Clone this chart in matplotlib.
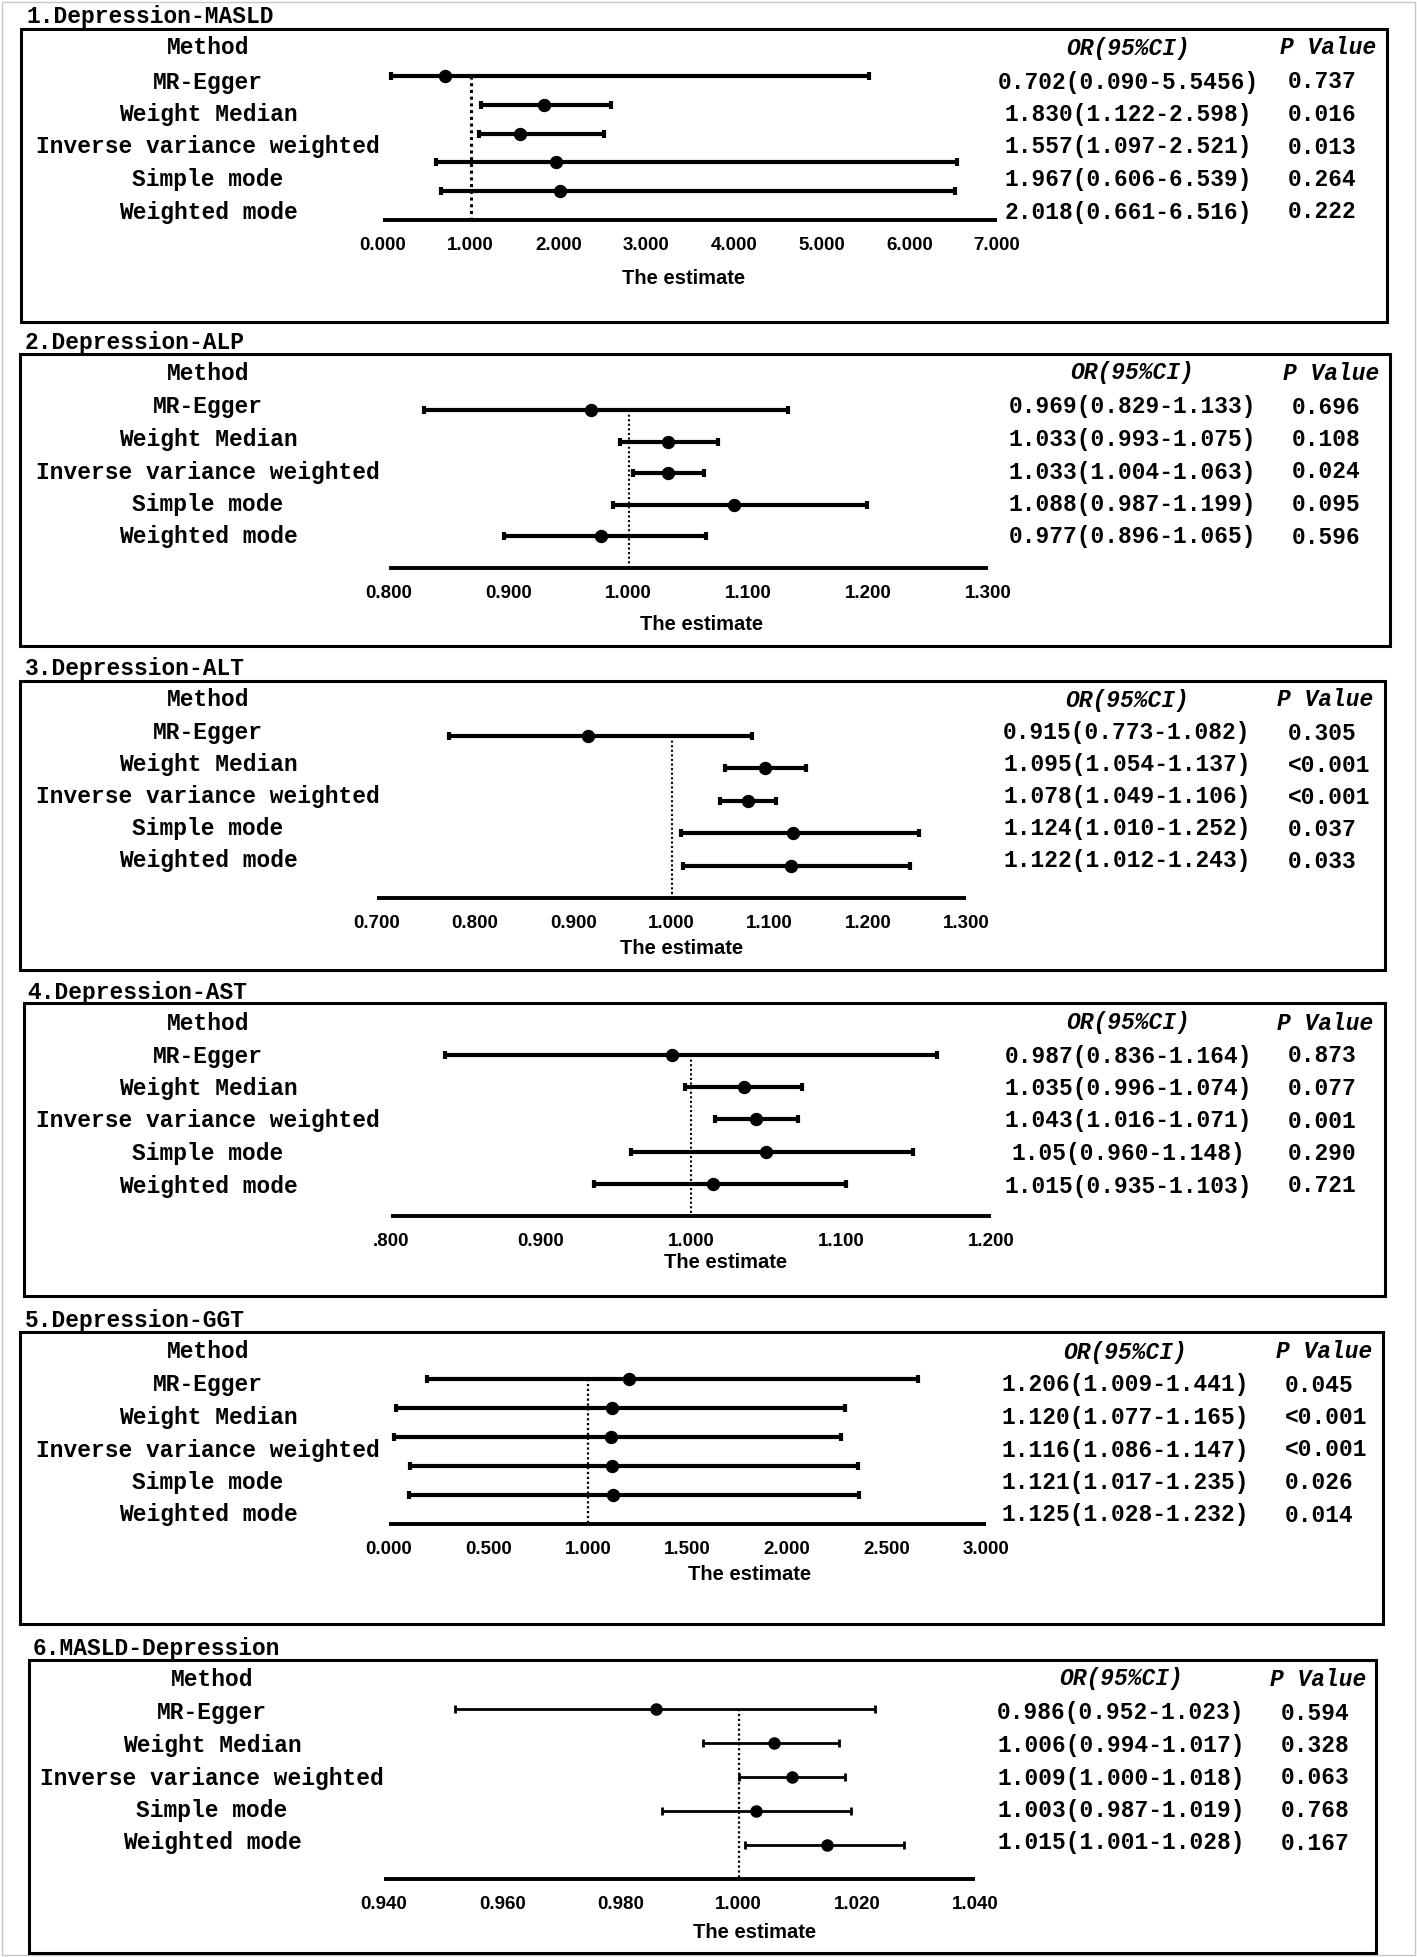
import matplotlib
matplotlib.use("Agg")
import matplotlib.pyplot as plt
from matplotlib.patches import Rectangle

# Data
methods = ["MR-Egger", "Weight Median", "Inverse variance weighted",
           "Simple mode", "Weighted mode"]

titles = ["1.Depression-MASLD", "2.Depression-ALP", "3.Depression-ALT",
          "4.Depression-AST", "5.Depression-GGT", "6.MASLD-Depression"]

# 1. Depression-MASLD
p1_est = [0.702, 1.830, 1.557, 1.967, 2.018]
p1_lo = [0.090, 1.122, 1.097, 0.606, 0.661]
p1_hi = [5.5456, 2.598, 2.521, 6.539, 6.516]
p1_ci = ["0.702(0.090-5.5456)", "1.830(1.122-2.598)", "1.557(1.097-2.521)",
         "1.967(0.606-6.539)", "2.018(0.661-6.516)"]
p1_p = ["0.737", "0.016", "0.013", "0.264", "0.222"]
p1_ticks = [0, 1, 2, 3, 4, 5, 6, 7]
p1_ticklabels = ["0.000", "1.000", "2.000", "3.000", "4.000", "5.000", "6.000", "7.000"]

# 2. Depression-ALP
p2_est = [0.969, 1.033, 1.033, 1.088, 0.977]
p2_lo = [0.829, 0.993, 1.004, 0.987, 0.896]
p2_hi = [1.133, 1.075, 1.063, 1.199, 1.065]
p2_ci = ["0.969(0.829-1.133)", "1.033(0.993-1.075)", "1.033(1.004-1.063)",
         "1.088(0.987-1.199)", "0.977(0.896-1.065)"]
p2_p = ["0.696", "0.108", "0.024", "0.095", "0.596"]
p2_ticks = [0.8, 0.9, 1.0, 1.1, 1.2, 1.3]
p2_ticklabels = ["0.800", "0.900", "1.000", "1.100", "1.200", "1.300"]

# 3. Depression-ALT
p3_est = [0.915, 1.095, 1.078, 1.124, 1.122]
p3_lo = [0.773, 1.054, 1.049, 1.010, 1.012]
p3_hi = [1.082, 1.137, 1.106, 1.252, 1.243]
p3_ci = ["0.915(0.773-1.082)", "1.095(1.054-1.137)", "1.078(1.049-1.106)",
         "1.124(1.010-1.252)", "1.122(1.012-1.243)"]
p3_p = ["0.305", "<0.001", "<0.001", "0.037", "0.033"]
p3_ticks = [0.7, 0.8, 0.9, 1.0, 1.1, 1.2, 1.3]
p3_ticklabels = ["0.700", "0.800", "0.900", "1.000", "1.100", "1.200", "1.300"]

# 4. Depression-AST
p4_est = [0.987, 1.035, 1.043, 1.05, 1.015]
p4_lo = [0.836, 0.996, 1.016, 0.960, 0.935]
p4_hi = [1.164, 1.074, 1.071, 1.148, 1.103]
p4_ci = ["0.987(0.836-1.164)", "1.035(0.996-1.074)", "1.043(1.016-1.071)",
         "1.05(0.960-1.148)", "1.015(0.935-1.103)"]
p4_p = ["0.873", "0.077", "0.001", "0.290", "0.721"]
p4_ticks = [0.8, 0.9, 1.0, 1.1, 1.2]
p4_ticklabels = [".800", "0.900", "1.000", "1.100", "1.200"]

# 5. Depression-GGT (intervals as drawn in the plot, table text as printed)
p5_est = [1.206, 1.120, 1.116, 1.121, 1.125]
p5_lo = [0.19, 0.036, 0.027, 0.105, 0.10]
p5_hi = [2.66, 2.29, 2.27, 2.355, 2.36]
p5_ci = ["1.206(1.009-1.441)", "1.120(1.077-1.165)", "1.116(1.086-1.147)",
         "1.121(1.017-1.235)", "1.125(1.028-1.232)"]
p5_p = ["0.045", "<0.001", "<0.001", "0.026", "0.014"]
p5_ticks = [0, 0.5, 1.0, 1.5, 2.0, 2.5, 3.0]
p5_ticklabels = ["0.000", "0.500", "1.000", "1.500", "2.000", "2.500", "3.000"]

# 6. MASLD-Depression
p6_est = [0.986, 1.006, 1.009, 1.003, 1.015]
p6_lo = [0.952, 0.994, 1.000, 0.987, 1.001]
p6_hi = [1.023, 1.017, 1.018, 1.019, 1.028]
p6_ci = ["0.986(0.952-1.023)", "1.006(0.994-1.017)", "1.009(1.000-1.018)",
         "1.003(0.987-1.019)", "1.015(1.001-1.028)"]
p6_p = ["0.594", "0.328", "0.063", "0.768", "0.167"]
p6_ticks = [0.94, 0.96, 0.98, 1.00, 1.02, 1.04]
p6_ticklabels = ["0.940", "0.960", "0.980", "1.000", "1.020", "1.040"]

panels = [
    (p1_est, p1_lo, p1_hi, p1_ci, p1_p, p1_ticks, p1_ticklabels),
    (p2_est, p2_lo, p2_hi, p2_ci, p2_p, p2_ticks, p2_ticklabels),
    (p3_est, p3_lo, p3_hi, p3_ci, p3_p, p3_ticks, p3_ticklabels),
    (p4_est, p4_lo, p4_hi, p4_ci, p4_p, p4_ticks, p4_ticklabels),
    (p5_est, p5_lo, p5_hi, p5_ci, p5_p, p5_ticks, p5_ticklabels),
    (p6_est, p6_lo, p6_hi, p6_ci, p6_p, p6_ticks, p6_ticklabels),
]

# layout in pixels: box (l, t, r, b), title (x, y), label centre x, header y,
# first text row y, first bar y, axis line y, axis x span, OR centre x,
# P left x, P header x, xlabel (x, y)
layout = [
    dict(box=(21, 29, 1387, 322), title=(27, 17), lab_x=208, head_y=48, row0=82, rstep=32.5,
         bar0=76, axis_y=220, ax_x=(383, 997), or_x=1128, p_x=1288, ph_x=1280, xl=(684, 279),
         lw=3.0, dot_lw=2.2, ms=8.6),
    dict(box=(20, 354, 1390, 646), title=(25, 342), lab_x=208, head_y=373, row0=407, rstep=32.5,
         bar0=410, axis_y=568, ax_x=(389, 988), or_x=1132, p_x=1292, ph_x=1283, xl=(702, 625),
         lw=3.0, dot_lw=1.5, ms=8.6),
    dict(box=(20, 681, 1385, 970), title=(25, 669), lab_x=208, head_y=700, row0=733, rstep=32,
         bar0=736, axis_y=898, ax_x=(377, 966), or_x=1127, p_x=1288, ph_x=1277, xl=(682, 948),
         lw=3.0, dot_lw=1.5, ms=8.6),
    dict(box=(24, 1003, 1385, 1296), title=(27, 992), lab_x=208, head_y=1023, row0=1056, rstep=32.5,
         bar0=1055, axis_y=1216, ax_x=(391, 991), or_x=1128, p_x=1288, ph_x=1277, xl=(726, 1263),
         lw=3.0, dot_lw=1.5, ms=8.6),
    dict(box=(20, 1332, 1383, 1624), title=(25, 1321), lab_x=208, head_y=1352, row0=1385, rstep=32.5,
         bar0=1379, axis_y=1524, ax_x=(389, 986), or_x=1125, p_x=1285, ph_x=1276, xl=(750, 1575),
         lw=3.0, dot_lw=1.6, ms=8.6),
    dict(box=(29, 1660, 1376, 1953), title=(33, 1648), lab_x=212, head_y=1679, row0=1713, rstep=32.5,
         bar0=1709, axis_y=1879, ax_x=(384, 975), or_x=1121, p_x=1281, ph_x=1270, xl=(755, 1933),
         lw=2.0, dot_lw=1.6, ms=8.0),
]

W, H = 1417, 1957
MONO = "Liberation Mono"
SANS = "Liberation Sans"
fs = 16.5

fig = plt.figure(figsize=(W / 100, H / 100), dpi=100)
bg = fig.add_axes([0, 0, 1, 1])
bg.set_xlim(0, W)
bg.set_ylim(H, 0)
bg.axis("off")
bg.add_patch(Rectangle((2, 2), W - 4, H - 4, fill=False, ec="#c8c8c8", lw=1))

rows = list(range(len(methods)))
txt = dict(family=MONO, fontsize=fs, weight="bold", va="center")

for title, data, lay in zip(titles, panels, layout):
    est, lo, hi, ci, pv, ticks, ticklabels = data
    l, t, r, b = lay["box"]
    bg.add_patch(Rectangle((l, t), r - l, b - t, fill=False, ec="black", lw=2.2))
    bg.text(lay["title"][0], lay["title"][1], title, ha="left", **txt)
    bg.text(lay["lab_x"], lay["head_y"], "Method", ha="center", **txt)
    bg.text(lay["or_x"], lay["head_y"], "OR(95%CI)", style="italic", ha="center", **txt)
    bg.text(lay["ph_x"], lay["head_y"], "P Value", style="italic", ha="left", **txt)
    for i, m in enumerate(methods):
        y = lay["row0"] + i * lay["rstep"]
        bg.text(lay["lab_x"], y, m, ha="center", **txt)
        bg.text(lay["or_x"], y, ci[i], ha="center", **txt)
        bg.text(lay["p_x"], y, pv[i], ha="left", **txt)
    bg.text(lay["xl"][0], lay["xl"][1], "The estimate", family=SANS, weight="bold",
            fontsize=14.5, ha="center", va="center")

    # forest axes: row i at pixel bar0 + i*s, axis line at row 5
    s = (lay["axis_y"] - lay["bar0"]) / 5.0
    x0, x1 = lay["ax_x"]
    top = lay["bar0"] - s
    bot = lay["axis_y"] + s
    ax = fig.add_axes([x0 / W, 1 - bot / H, (x1 - x0) / W, (bot - top) / H])
    ax.patch.set_alpha(0)
    ax.set_xlim(ticks[0], ticks[-1])
    ax.set_ylim(6, -1)
    for sp in ["top", "left", "right"]:
        ax.spines[sp].set_visible(False)
    ax.spines["bottom"].set_position(("data", 5))
    ax.spines["bottom"].set_linewidth(2.8)
    ax.spines["bottom"].set_capstyle("butt")
    ax.set_yticks([])
    ax.set_xticks(ticks)
    ax.set_xticklabels(ticklabels, family=SANS, weight="bold", fontsize=13.5)
    ax.tick_params(axis="x", length=0, pad=12)

    ax.plot([1, 1], [0, 5], color="black", lw=lay["dot_lw"], linestyle=(0, (1, 1.2)),
            clip_on=False)
    err = [[e - a for e, a in zip(est, lo)], [c - e for e, c in zip(est, hi)]]
    ax.errorbar(est, rows, xerr=err, fmt="o", color="black", ms=lay["ms"],
                elinewidth=lay["lw"], capsize=3.2, capthick=lay["lw"], clip_on=False)

fig.savefig("out.png", dpi=100)
